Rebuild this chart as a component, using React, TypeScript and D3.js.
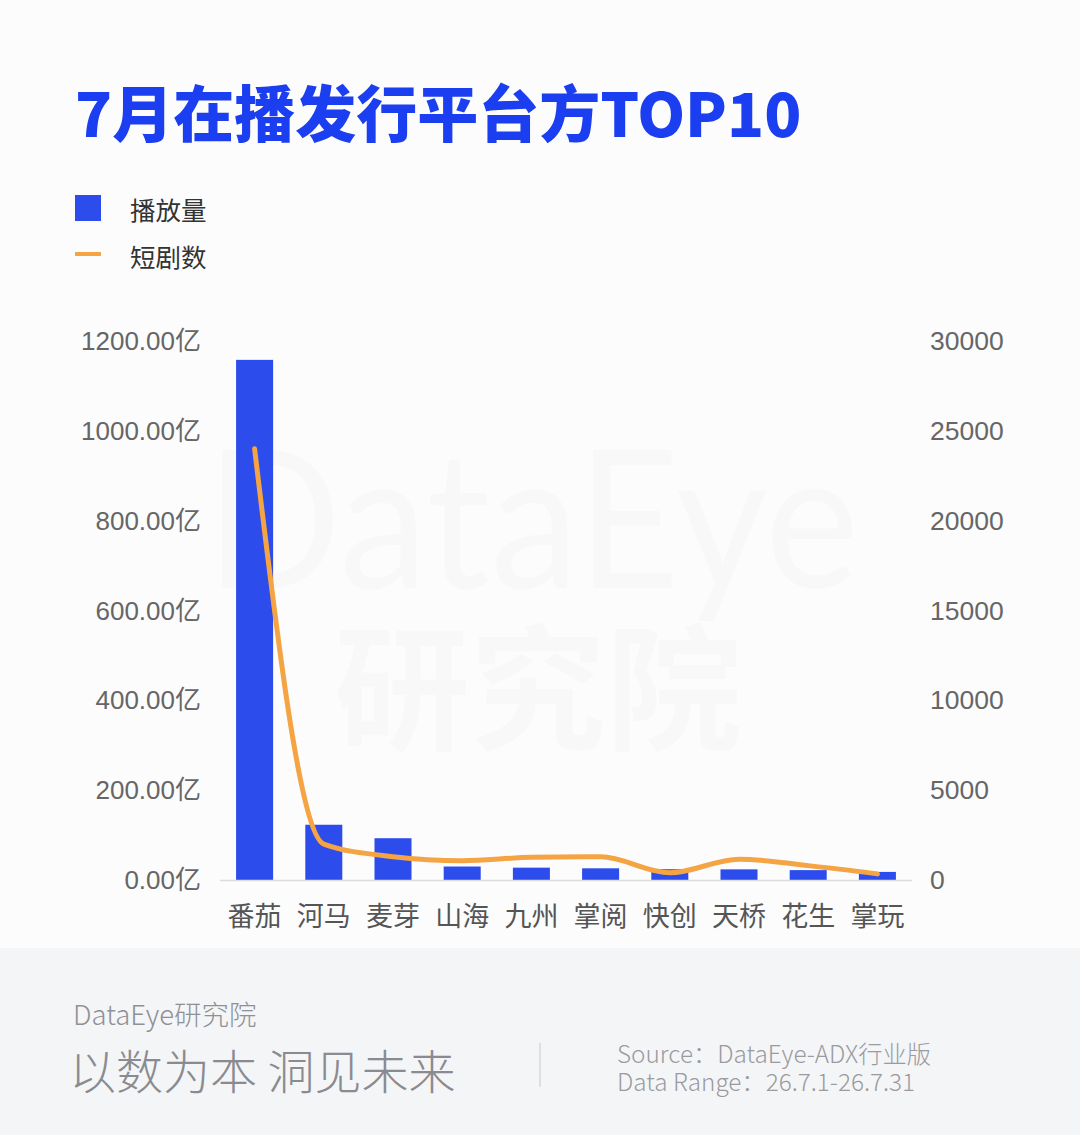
import React, { useEffect } from "react";
import * as d3 from "d3";

const categories = ["番茄", "河马", "麦芽", "山海", "九州", "掌阅", "快创", "天桥", "花生", "掌玩"];
const playVolume = [1158, 123, 93, 30, 27.5, 26, 24, 23.7, 22, 18];
const dramaCount = [24000, 2000, 1300, 1075, 1260, 1290, 400, 1160, 800, 340];
const leftTicks = [0, 200, 400, 600, 800, 1000, 1200];
const rightTicks = [0, 5000, 10000, 15000, 20000, 25000, 30000];

const W = 1080;
const H = 1135;
const plotLeft = 220;
const plotRight = 912;
const plotTop = 341;
const plotBottom = 880;

const BLUE = "#2d4cec";
const TITLE_BLUE = "#1a3ef0";
const ORANGE = "#f4a443";
const CJK = "'Noto Sans CJK SC', 'Noto Sans', sans-serif";
const NUM = "'Liberation Sans', Arial, 'Noto Sans CJK SC', sans-serif";

export default function App() {
  useEffect(() => {
    document.body.style.margin = "0";
  }, []);

  const x = d3.scaleBand<string>().domain(categories).range([plotLeft, plotRight]).paddingInner(0.465).paddingOuter(0.2325);
  const yL = d3.scaleLinear().domain([0, 1200]).range([plotBottom, plotTop]);
  const yR = d3.scaleLinear().domain([0, 30000]).range([plotBottom, plotTop]);

  const lineGen = d3
    .line<number>()
    .x((_, i) => (x(categories[i]) as number) + x.bandwidth() / 2)
    .y((d) => yR(d))
    .curve(d3.curveMonotoneX);

  return (
    <svg width={W} height={H} style={{ position: "absolute", left: 0, top: 0, display: "block" }}>
      <rect x={0} y={0} width={W} height={H} fill="#fcfcfd" />
      {/* watermark */}
      <g pointerEvents="none">
        <g transform="translate(206,588) scale(0.89,0.96)">
          <text x={0} y={0} fontFamily="'Lato', 'Open Sans', sans-serif" fontSize={200} fill="#000" fillOpacity={0.016}>
            DataEye
          </text>
        </g>
        <text x={538} y={740} textAnchor="middle" fontFamily={CJK} fontWeight={700} fontSize={136} fill="#000" fillOpacity={0.016}>
          研究院
        </text>
      </g>

      {/* title */}
      <text x={75} y={137} fontFamily={CJK} fontWeight={900} fontSize={61} fill={TITLE_BLUE}>
        7月在播发行平台方TOP10
      </text>

      {/* legend */}
      <rect x={75} y={195} width={26} height={26} fill={BLUE} />
      <text x={130} y={208} dominantBaseline="central" fontFamily={CJK} fontSize={25.5} fill="#333">
        播放量
      </text>
      <rect x={75} y={252} width={26} height={4} fill={ORANGE} />
      <text x={130} y={255} dominantBaseline="central" fontFamily={CJK} fontSize={25.5} fill="#333">
        短剧数
      </text>

      {/* left axis labels */}
      {leftTicks.map((t) => (
        <text key={"l" + t} x={201} y={yL(t)} textAnchor="end" dominantBaseline="central" fontFamily={NUM} fontSize={26} fill="#666">
          {t.toFixed(2) + "亿"}
        </text>
      ))}
      {/* right axis labels */}
      {rightTicks.map((t) => (
        <text key={"r" + t} x={930} y={yR(t)} textAnchor="start" dominantBaseline="central" fontFamily={NUM} fontSize={26.5} fill="#666">
          {String(t)}
        </text>
      ))}

      {/* bars */}
      {playVolume.map((v, i) => (
        <rect key={categories[i]} x={x(categories[i])} y={yL(v)} width={x.bandwidth()} height={plotBottom - yL(v)} fill={BLUE} />
      ))}

      {/* axis line */}
      <line x1={plotLeft} x2={plotRight} y1={plotBottom + 0.5} y2={plotBottom + 0.5} stroke="#dcdcdc" strokeWidth={1.5} />

      {/* category labels */}
      {categories.map((c) => (
        <text key={"c" + c} x={(x(c) as number) + x.bandwidth() / 2} y={914} textAnchor="middle" dominantBaseline="central" fontFamily={CJK} fontSize={27} fill="#555">
          {c}
        </text>
      ))}

      {/* line */}
      <path d={lineGen(dramaCount) || ""} fill="none" stroke={ORANGE} strokeWidth={5} strokeLinecap="round" strokeLinejoin="round" />

      {/* footer */}
      <rect x={0} y={948} width={W} height={H - 948} fill="#f4f5f7" />
      <text x={73} y={1013} dominantBaseline="central" fontFamily={CJK} fontWeight={300} fontSize={27.5} fill="#8f9096">
        DataEye研究院
      </text>
      <text x={69} y={1068} dominantBaseline="central" fontFamily={CJK} fontWeight={300} fontSize={47} fill="#8a8b90">
        以数为本 洞见未来
      </text>
      <line x1={540} x2={540} y1={1043} y2={1087} stroke="#d6d7da" strokeWidth={1.5} />
      <text x={617} y={1052} dominantBaseline="central" fontFamily={CJK} fontWeight={300} fontSize={24.3} fill="#9a9ba0">
        Source：DataEye-ADX行业版
      </text>
      <text x={617} y={1080} dominantBaseline="central" fontFamily={CJK} fontWeight={300} fontSize={24.3} fill="#9a9ba0">
        Data Range：26.7.1-26.7.31
      </text>
    </svg>
  );
}
